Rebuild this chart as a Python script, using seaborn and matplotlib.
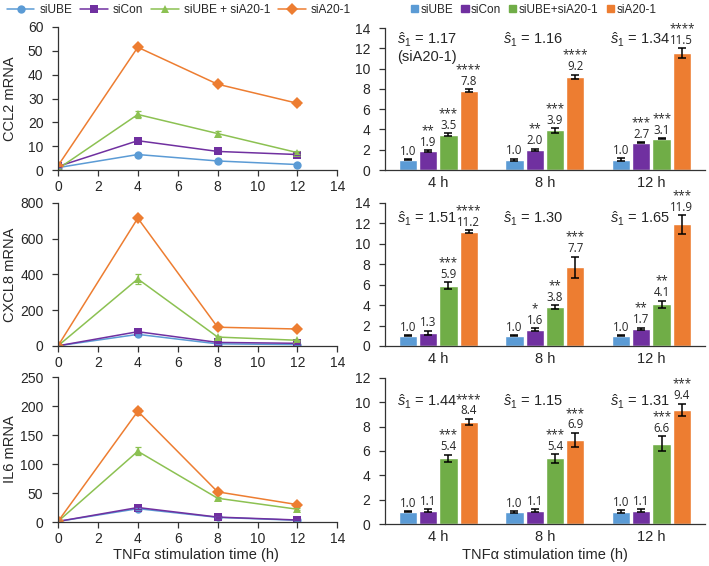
import numpy as np
import pandas as pd
import matplotlib
matplotlib.use("Agg")
import matplotlib.pyplot as plt
from matplotlib.lines import Line2D
from matplotlib.patches import Patch
from matplotlib.container import BarContainer
import seaborn as sns

# ---- data ----
conditions = ["siUBE", "siCon", "siUBE + siA20-1", "siA20-1"]
bar_conditions = ["siUBE", "siCon", "siUBE+siA20-1", "siA20-1"]
times = [0, 4, 8, 12]
genes = ["CCL2", "CXCL8", "IL6"]
time_labels = ["4 h", "8 h", "12 h"]

# time course (left panels)
ccl2_mean = {"siUBE": [1.0, 6.5, 3.8, 2.3], "siCon": [1.5, 12.3, 7.8, 6.5],
             "siUBE + siA20-1": [0.5, 23.3, 15.3, 7.3], "siA20-1": [1.8, 51.5, 36.0, 28.0]}
ccl2_err = {"siUBE": [0.1, 0.4, 0.3, 0.2], "siCon": [0.1, 0.6, 0.4, 0.3],
            "siUBE + siA20-1": [0.1, 1.3, 1.1, 0.5], "siA20-1": [0.2, 0.9, 0.7, 0.7]}
cxcl8_mean = {"siUBE": [1, 65, 12, 8], "siCon": [1, 80, 20, 15],
              "siUBE + siA20-1": [1, 375, 50, 32], "siA20-1": [1, 715, 105, 95]}
cxcl8_err = {"siUBE": [0, 4, 2, 1], "siCon": [0, 6, 2, 2],
             "siUBE + siA20-1": [0, 28, 4, 3], "siA20-1": [0, 12, 8, 7]}
il6_mean = {"siUBE": [1, 23, 8, 3], "siCon": [1, 25, 8.5, 3.5],
            "siUBE + siA20-1": [1, 122, 41, 22], "siA20-1": [1, 191, 52, 30]}
il6_err = {"siUBE": [0, 2, 1, 0.5], "siCon": [0, 2, 1, 0.5],
           "siUBE + siA20-1": [0, 7, 3, 2], "siA20-1": [0, 6, 3, 2]}

# fold change bars (right panels), rows = condition, cols = 4h/8h/12h
ccl2_fc = [[1.0, 1.0, 1.0], [1.9, 2.0, 2.7], [3.5, 3.9, 3.1], [7.8, 9.2, 11.5]]
ccl2_fc_err = [[0.05, 0.1, 0.15], [0.08, 0.12, 0.07], [0.15, 0.25, 0.05], [0.15, 0.2, 0.5]]
ccl2_stars = [["", "", ""], ["**", "**", "***"], ["***", "***", "***"], ["****", "****", "****"]]
ccl2_s1 = ["1.17\n(siA20-1)", "1.16", "1.34"]

cxcl8_fc = [[1.0, 1.0, 1.0], [1.3, 1.6, 1.7], [5.9, 3.8, 4.1], [11.2, 7.7, 11.9]]
cxcl8_fc_err = [[0.05, 0.05, 0.07], [0.2, 0.15, 0.1], [0.35, 0.2, 0.35], [0.15, 1.05, 0.9]]
cxcl8_stars = [["", "", ""], ["", "*", "**"], ["***", "**", "**"], ["****", "***", "***"]]
cxcl8_s1 = ["1.51", "1.30", "1.65"]

il6_fc = [[1.0, 1.0, 1.0], [1.1, 1.1, 1.1], [5.4, 5.4, 6.6], [8.4, 6.9, 9.4]]
il6_fc_err = [[0.05, 0.07, 0.12], [0.12, 0.1, 0.1], [0.3, 0.35, 0.6], [0.25, 0.6, 0.5]]
il6_stars = [["", "", ""], ["", "", ""], ["***", "***", "***"], ["****", "***", "***"]]
il6_s1 = ["1.44", "1.15", "1.31"]

line_colors = ["#5B9BD5", "#7030A0", "#8CC152", "#ED7D31"]
bar_colors = ["#5B9BD5", "#7030A0", "#70AD47", "#ED7D31"]
markers = ["o", "s", "^", "D"]

sns.set_theme(style="ticks")
plt.rcParams["font.family"] = ["Liberation Sans", "DejaVu Sans"]
plt.rcParams["mathtext.fontset"] = "custom"
plt.rcParams["mathtext.it"] = "Liberation Sans:italic"
plt.rcParams["mathtext.rm"] = "Liberation Sans"
plt.rcParams["axes.linewidth"] = 0.9
plt.rcParams["axes.edgecolor"] = "#333333"

fig = plt.figure(figsize=(7.09, 5.66), dpi=100)

left_pos = [[0.0818, 0.6996, 0.394, 0.2527],
            [0.0818, 0.3887, 0.394, 0.2527],
            [0.0818, 0.0777, 0.394, 0.2562]]
right_pos = [[0.543, 0.6996, 0.451, 0.2509],
             [0.543, 0.3887, 0.451, 0.2527],
             [0.543, 0.0742, 0.451, 0.2580]]

line_data = [(ccl2_mean, ccl2_err, 60, 10), (cxcl8_mean, cxcl8_err, 800, 200),
             (il6_mean, il6_err, 250, 50)]
bar_data = [(ccl2_fc, ccl2_fc_err, ccl2_stars, ccl2_s1, 14, 12.8),
            (cxcl8_fc, cxcl8_fc_err, cxcl8_stars, cxcl8_s1, 14, 12.4),
            (il6_fc, il6_fc_err, il6_stars, il6_s1, 12, 10.05)]

for g, gene in enumerate(genes):
    # ---- left: time course ----
    mean, err, ymax, ystep = line_data[g]
    ax = fig.add_axes(left_pos[g])
    rows = []
    for c in conditions:
        for t, v in zip(times, mean[c]):
            rows.append({"time": t, "value": v, "condition": c})
    df = pd.DataFrame(rows)
    sns.lineplot(data=df, x="time", y="value", hue="condition", style="condition",
                 hue_order=conditions, style_order=conditions,
                 palette=line_colors, markers=markers, dashes=False,
                 markersize=6, markeredgewidth=0, linewidth=1.1, legend=False, ax=ax)
    for c, col in zip(conditions, line_colors):
        ax.errorbar(times, mean[c], yerr=err[c], fmt="none", ecolor=col,
                    elinewidth=0.9, capsize=2.5, capthick=0.9)
    ax.set_xlim(0, 14)
    ax.set_xticks(range(0, 15, 2))
    ax.set_ylim(0, ymax)
    ax.set_yticks(np.arange(0, ymax + 1, ystep))
    ax.set_ylabel(f"{gene} mRNA", fontsize=10.5)
    ax.yaxis.set_label_coords(-0.147, 0.5)
    ax.set_xlabel("")
    ax.tick_params(axis="y", labelsize=10, length=4, width=0.9, color="#333333", pad=6.5)
    ax.tick_params(axis="x", labelsize=10, length=4, width=0.9, color="#333333", pad=3.5)
    sns.despine(ax=ax)

    # ---- right: fold change bars ----
    fc, fc_err, stars, s1, ylim, s1_y = bar_data[g]
    axr = fig.add_axes(right_pos[g])
    brows = []
    for i, c in enumerate(bar_conditions):
        for j, tl in enumerate(time_labels):
            brows.append({"time": tl, "fc": fc[i][j], "condition": c})
    bdf = pd.DataFrame(brows)
    sns.barplot(data=bdf, x="time", y="fc", hue="condition", order=time_labels,
                hue_order=bar_conditions, palette=bar_colors, width=0.76, gap=0.1,
                errorbar=None, legend=False, saturation=1, ax=axr)
    bar_conts = [c for c in axr.containers if isinstance(c, BarContainer)]
    for i, cont in enumerate(bar_conts):
        for j, bar in enumerate(cont.patches):
            xc = bar.get_x() + bar.get_width() / 2
            top = fc[i][j] + fc_err[i][j]
            axr.errorbar(xc, fc[i][j], yerr=fc_err[i][j], fmt="none", ecolor="black",
                         elinewidth=1.1, capsize=3, capthick=1.1)
            label = f"{fc[i][j]:.1f}"
            if stars[i][j]:
                label = stars[i][j] + "\n" + label
            axr.annotate(label, xy=(xc, top), xytext=(0, 1.0), textcoords="offset points",
                         ha="center", va="bottom", fontsize=8.3, linespacing=0.85,
                         family=["Open Sans", "DejaVu Sans"])
    for j in range(3):
        axr.text(j - 0.39, s1_y, r"$\hat{s}_1$ = " + s1[j].split("\n")[0],
                 fontsize=10.5, ha="left", va="center")
        if "\n" in s1[j]:
            axr.text(j - 0.39, s1_y - 1.7, s1[j].split("\n")[1],
                     fontsize=10.5, ha="left", va="center")
    axr.set_xlim(-0.5, 2.5)
    axr.set_ylim(0, ylim)
    axr.set_yticks(np.arange(0, ylim + 1, 2))
    axr.set_xlabel("")
    axr.set_ylabel("")
    axr.tick_params(axis="y", labelsize=10, length=4, width=0.9, color="#333333", pad=6.5)
    axr.tick_params(axis="x", labelsize=10.5, length=0, pad=4)
    sns.despine(ax=axr)

fig.text(0.276, 0.0194, "TNFα stimulation time (h)", ha="center", va="center", fontsize=10.5)
fig.text(0.768, 0.0194, "TNFα stimulation time (h)", ha="center", va="center", fontsize=10.5)

# legends
line_handles = [Line2D([0], [0], color=c, marker=m, markersize=6, markeredgewidth=0, lw=1.1)
                for c, m in zip(line_colors, markers)]
fig.legend(line_handles, conditions, loc="upper left", bbox_to_anchor=(-0.002, 1.008),
           ncol=4, frameon=False, fontsize=8.6, handlelength=2.3, columnspacing=0.7,
           handletextpad=0.4, borderpad=0.2)
bar_handles = [Patch(color=c) for c in bar_colors]
fig.legend(bar_handles, bar_conditions, loc="upper left", bbox_to_anchor=(0.568, 1.008),
           ncol=4, frameon=False, fontsize=8.5, handlelength=0.6, handleheight=0.6,
           columnspacing=0.7, handletextpad=0.2, borderpad=0.2)

fig.savefig("out.png", dpi=100)
